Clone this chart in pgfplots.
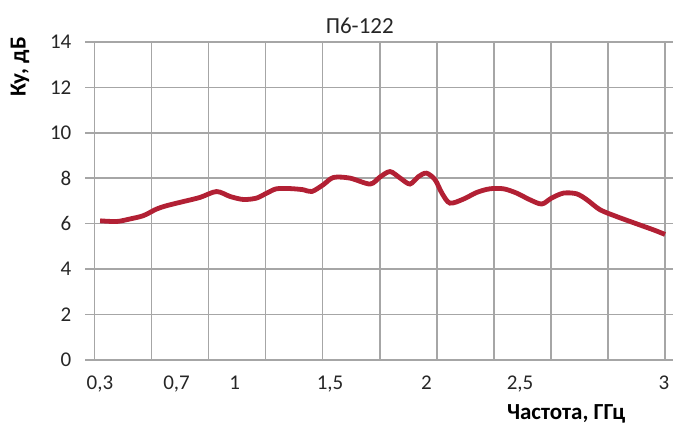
\documentclass[border=0pt]{standalone}
\usepackage{pgfplots}
\pgfplotsset{compat=1.18}
\usepackage{fontspec}
\setmainfont{Carlito}
\definecolor{curve}{RGB}{178,32,52}
\definecolor{gridgray}{RGB}{166,166,166}
\begin{document}
\begin{tikzpicture}
\useasboundingbox (-47.25pt,-35.5pt) rectangle (289.5pt,180pt);
\begin{axis}[
    at={(0pt,0pt)}, anchor=south west,
    scale only axis,
    width=285.5pt, height=159pt,
    xmin=0, xmax=10, ymin=0, ymax=14,
    xtick={0,...,10}, xticklabels={},
    major x tick style={draw=none},
    ytick={0,2,...,14},
    tick align=outside,
    major tick length=4.5pt,
    tick style={gridgray, line width=0.8pt},
    grid=major,
    major grid style={gridgray, line width=0.8pt},
    axis line style={gridgray, line width=0.8pt},
    extra x ticks={0.096,1.44,2.46,4.13,5.82,7.46,9.98},
    extra x tick labels={{0,3},{0,7},1,{1,5},2,{2,5},3},
    extra x tick style={grid=none, major tick length=0pt, xticklabel style={yshift=-4.5pt}},
    ticklabel style={font=\fontsize{10.5}{12}\selectfont, text=black!85},
    /pgf/number format/assume math mode=true,
    yticklabel style={xshift=-3.5pt},
    clip=false,
]
\addplot[curve, line width=2.4pt, smooth, tension=0.5] coordinates {
    (0.10,6.12) (0.39,6.09) (0.62,6.20) (0.86,6.35) (1.09,6.64)
    (1.27,6.79) (1.56,6.97) (1.85,7.15) (2.14,7.41) (2.38,7.19)
    (2.61,7.06) (2.84,7.12) (3.02,7.34) (3.19,7.53) (3.43,7.54)
    (3.66,7.49) (3.81,7.41) (4.01,7.71) (4.19,8.03) (4.48,8.00)
    (4.83,7.74) (5.00,8.04) (5.18,8.29) (5.36,8.00) (5.53,7.74)
    (5.68,8.07) (5.82,8.22) (5.97,7.93) (6.09,7.34) (6.23,6.90)
    (6.47,7.08) (6.70,7.37) (6.93,7.53) (7.17,7.53) (7.40,7.34)
    (7.63,7.05) (7.84,6.86) (8.01,7.12) (8.22,7.34) (8.45,7.31)
    (8.63,7.05) (8.86,6.61) (9.15,6.31) (9.50,5.99) (9.80,5.72)
    (10.00,5.52)
};
\end{axis}
\node[rotate=90, font=\fontsize{11.5}{13}\selectfont\bfseries] at (-37.25pt,146.5pt) {Ку, дБ};
\node[font=\fontsize{11.5}{13}\selectfont\bfseries] at (236pt,-27pt) {Частота, ГГц};
\node[font=\fontsize{11.5}{13}\selectfont, text=black!85] at (132.75pt,167pt) {П6-122};
\end{tikzpicture}
\end{document}
